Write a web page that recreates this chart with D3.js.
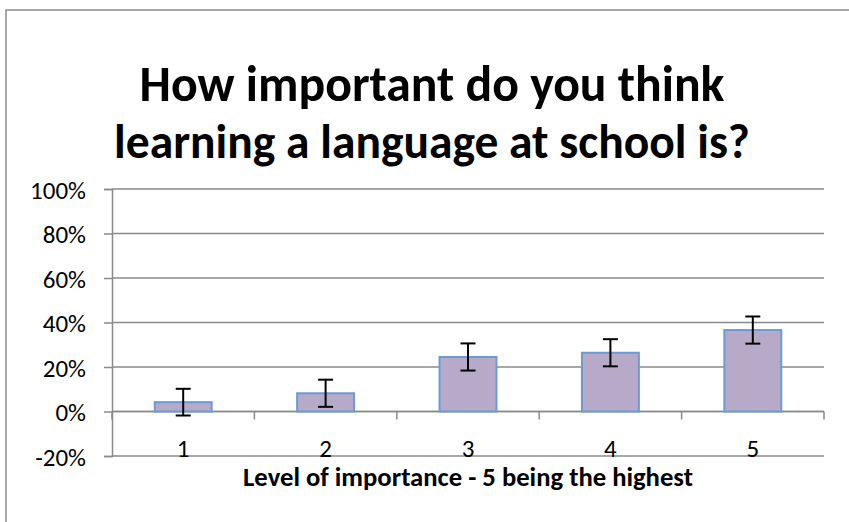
<!DOCTYPE html>
<html>
<head>
<meta charset="utf-8">
<script src="https://cdn.jsdelivr.net/npm/d3@7"></script>
<style>
  body { margin: 0; background: #fff; }
  text { font-family: Calibri, Carlito, Lato, sans-serif; fill: #000; }
</style>
</head>
<body>
<div id="chart"></div>
<script>
var titleLines = ["How important do you think", "learning a language at school is?"];
var xTitle = "Level of importance - 5 being the highest";
var levels = ["1", "2", "3", "4", "5"];
var shares = [4.2, 8.2, 24.5, 26.4, 36.6];
var errors = [6.0, 6.1, 6.1, 6.1, 6.1];
var yTicks = [-20, 0, 20, 40, 60, 80, 100];

var W = 849, H = 522;
var margin = {top: 189, right: 25, bottom: 66, left: 112},
    width = W - margin.left - margin.right,
    height = H - margin.top - margin.bottom;

var svg = d3.select("#chart")
    .append("svg")
        .attr("width", W)
        .attr("height", H);

// chart area border (runs off the right and bottom of the picture)
svg.append("rect")
    .attr("x", 6).attr("y", 10)
    .attr("width", W + 20).attr("height", H + 20)
    .attr("fill", "none")
    .attr("stroke", "#8a8a8a")
    .attr("stroke-width", 1.5);

// title, sized so each line spans about the same width as the original
var titleW = [585, 636];
titleLines.forEach(function(t, i) {
    var el = svg.append("text")
        .attr("x", 432)
        .attr("y", 101 + i * 57)
        .attr("text-anchor", "middle")
        .style("font-weight", "bold")
        .style("font-size", "44px")
        .text(t);
    var w = el.node().getComputedTextLength();
    el.style("font-size", (44 * titleW[i] / w) + "px");
});

var g = svg.append("g")
    .attr("transform", "translate(" + margin.left + "," + margin.top + ")");

var x = d3.scaleBand()
    .domain(levels)
    .range([0, width])
    .paddingInner(0.6)
    .paddingOuter(0.3);

var y = d3.scaleLinear()
    .domain([-20, 100])
    .range([height, 0]);

// gridlines
g.append("g")
    .selectAll("line")
    .data(yTicks)
    .enter()
    .append("line")
    .attr("x1", 0).attr("x2", width)
    .attr("y1", function(d) { return y(d); })
    .attr("y2", function(d) { return y(d); })
    .attr("stroke", "#8a8a8a")
    .attr("stroke-width", 1.5);

// y axis
var yAxis = g.append("g")
    .call(d3.axisLeft(y).tickValues(yTicks).tickSize(8).tickPadding(18).tickFormat(function(d) { return d + "%"; }));
yAxis.select(".domain").attr("stroke", "#8a8a8a").attr("stroke-width", 1.5);
yAxis.selectAll(".tick line").attr("stroke", "#8a8a8a").attr("stroke-width", 1.5);
yAxis.selectAll(".tick text")
    .style("font-size", "25px")
    .attr("dy", "0.36em");

// x axis along 0%, ticks at band boundaries
var step = x.step();
var bounds = d3.range(levels.length + 1).map(function(i) { return i * step; });
var xAxis = g.append("g").attr("transform", "translate(0," + y(0) + ")");
xAxis.append("line")
    .attr("x1", 0).attr("x2", width)
    .attr("stroke", "#8a8a8a").attr("stroke-width", 1.5);
xAxis.selectAll(".xt")
    .data(bounds)
    .enter()
    .append("line")
    .attr("class", "xt")
    .attr("x1", function(d) { return d; })
    .attr("x2", function(d) { return d; })
    .attr("y1", 0).attr("y2", 8)
    .attr("stroke", "#8a8a8a").attr("stroke-width", 1.5);

// bars
g.append("g")
    .selectAll("rect")
    .data(levels)
    .enter()
    .append("rect")
    .attr("x", function(d) { return x(d); })
    .attr("y", function(d, i) { return y(shares[i]); })
    .attr("width", x.bandwidth())
    .attr("height", function(d, i) { return y(0) - y(shares[i]); })
    .attr("fill", "#b7a9c8")
    .attr("stroke", "#6a9cd3")
    .attr("stroke-width", 2);

// error bars
var eb = g.append("g")
    .selectAll("g")
    .data(levels)
    .enter()
    .append("g")
    .attr("transform", function(d) { return "translate(" + (x(d) + x.bandwidth() / 2) + ",0)"; });
eb.append("line")
    .attr("y1", function(d, i) { return y(shares[i] + errors[i]); })
    .attr("y2", function(d, i) { return y(shares[i] - errors[i]); })
    .attr("stroke", "#000").attr("stroke-width", 2);
[1, -1].forEach(function(s) {
    eb.append("line")
        .attr("x1", -7.5).attr("x2", 7.5)
        .attr("y1", function(d, i) { return y(shares[i] + s * errors[i]); })
        .attr("y2", function(d, i) { return y(shares[i] + s * errors[i]); })
        .attr("stroke", "#000").attr("stroke-width", 2);
});

// category labels
g.append("g")
    .selectAll("text")
    .data(levels)
    .enter()
    .append("text")
    .attr("x", function(d) { return x(d) + x.bandwidth() / 2; })
    .attr("y", 457 - margin.top)
    .attr("text-anchor", "middle")
    .style("font-size", "25px")
    .text(function(d) { return d; });

// x axis title
var xt = svg.append("text")
    .attr("x", margin.left + width / 2)
    .attr("y", 486)
    .attr("text-anchor", "middle")
    .style("font-weight", "bold")
    .style("font-size", "22px")
    .text(xTitle);
var xw = xt.node().getComputedTextLength();
xt.style("font-size", (22 * 450 / xw) + "px");
</script>
</body>
</html>
